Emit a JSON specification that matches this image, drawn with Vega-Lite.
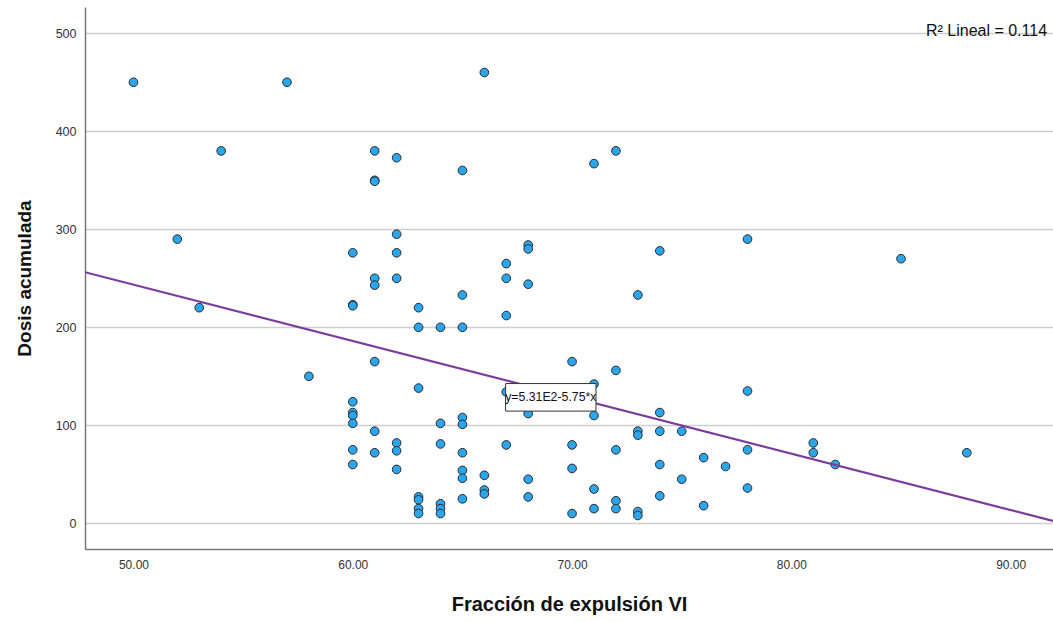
{
  "$schema": "https://vega.github.io/schema/vega-lite/v6.json",
  "width": 968,
  "height": 542,
  "autosize": {"type": "none"},
  "padding": {"left": 85, "top": 7, "right": 0, "bottom": 73},
  "background": "white",
  "config": {
    "view": {"stroke": null},
    "font": "Liberation Sans",
    "axis": {"labelFont": "Liberation Sans", "titleFont": "Liberation Sans"}
  },
  "datasets": {
    "pts": [
      {"x": 50, "y": 450}, {"x": 57, "y": 450}, {"x": 54, "y": 380}, {"x": 52, "y": 290}, {"x": 53, "y": 220}, {"x": 58, "y": 150},
      {"x": 60, "y": 276}, {"x": 60, "y": 223}, {"x": 60, "y": 222}, {"x": 60, "y": 124}, {"x": 60, "y": 113}, {"x": 60, "y": 110}, {"x": 60, "y": 102}, {"x": 60, "y": 75}, {"x": 60, "y": 60},
      {"x": 61, "y": 380}, {"x": 61, "y": 350}, {"x": 61, "y": 349}, {"x": 61, "y": 250}, {"x": 61, "y": 243}, {"x": 61, "y": 165}, {"x": 61, "y": 94}, {"x": 61, "y": 72},
      {"x": 62, "y": 373}, {"x": 62, "y": 295}, {"x": 62, "y": 276}, {"x": 62, "y": 250}, {"x": 62, "y": 82}, {"x": 62, "y": 74}, {"x": 62, "y": 55},
      {"x": 63, "y": 220}, {"x": 63, "y": 200}, {"x": 63, "y": 138}, {"x": 63, "y": 27}, {"x": 63, "y": 24}, {"x": 63, "y": 15}, {"x": 63, "y": 10},
      {"x": 64, "y": 200}, {"x": 64, "y": 102}, {"x": 64, "y": 81}, {"x": 64, "y": 20}, {"x": 64, "y": 15}, {"x": 64, "y": 10},
      {"x": 65, "y": 360}, {"x": 65, "y": 233}, {"x": 65, "y": 200}, {"x": 65, "y": 108}, {"x": 65, "y": 101}, {"x": 65, "y": 72}, {"x": 65, "y": 54}, {"x": 65, "y": 46}, {"x": 65, "y": 25},
      {"x": 66, "y": 460}, {"x": 66, "y": 49}, {"x": 66, "y": 34}, {"x": 66, "y": 30},
      {"x": 67, "y": 265}, {"x": 67, "y": 250}, {"x": 67, "y": 212}, {"x": 67, "y": 134}, {"x": 67, "y": 80},
      {"x": 68, "y": 284}, {"x": 68, "y": 280}, {"x": 68, "y": 244}, {"x": 68, "y": 112}, {"x": 68, "y": 45}, {"x": 68, "y": 27},
      {"x": 70, "y": 165}, {"x": 70, "y": 80}, {"x": 70, "y": 56}, {"x": 70, "y": 10},
      {"x": 71, "y": 367}, {"x": 71, "y": 142}, {"x": 71, "y": 110}, {"x": 71, "y": 35}, {"x": 71, "y": 15},
      {"x": 72, "y": 380}, {"x": 72, "y": 156}, {"x": 72, "y": 75}, {"x": 72, "y": 23}, {"x": 72, "y": 15},
      {"x": 73, "y": 233}, {"x": 73, "y": 94}, {"x": 73, "y": 90}, {"x": 73, "y": 12}, {"x": 73, "y": 8},
      {"x": 74, "y": 278}, {"x": 74, "y": 113}, {"x": 74, "y": 94}, {"x": 74, "y": 60}, {"x": 74, "y": 28},
      {"x": 75, "y": 94}, {"x": 75, "y": 45}, {"x": 76, "y": 67}, {"x": 76, "y": 18}, {"x": 77, "y": 58},
      {"x": 78, "y": 290}, {"x": 78, "y": 135}, {"x": 78, "y": 75}, {"x": 78, "y": 36},
      {"x": 81, "y": 82}, {"x": 81, "y": 72}, {"x": 82, "y": 60}, {"x": 85, "y": 270}, {"x": 88, "y": 72}
    ],
    "fit": [{"x": 47.79, "y": 256.2}, {"x": 91.93, "y": 2.4}],
    "eqbox": [{"x": 66.97, "x2": 71.09, "y": 114.5, "y2": 142.6, "label": "y=5.31E2-5.75*x", "cx": 69.03, "cy": 128.5}],
    "r2": [{"x": 91.66, "y": 497.2, "label": "R² Lineal = 0.114"}]
  },
  "layer": [
    {
      "data": {"name": "pts"},
      "mark": {"type": "point", "shape": "circle", "filled": true, "size": 75, "fill": "#2aa6ee", "stroke": "#2b2b2b", "strokeWidth": 1, "opacity": 1},
      "encoding": {
        "x": {
          "field": "x", "type": "quantitative",
          "scale": {"domain": [47.79, 91.93], "nice": false, "zero": false},
          "axis": {
            "title": "Fracción de expulsión VI", "titleFontSize": 20, "titleFontWeight": "bold", "titleColor": "#111", "titlePadding": 24,
            "values": [50, 60, 70, 80, 90], "format": ".2f", "labelFontSize": 12, "labelColor": "#333", "labelPadding": 10,
            "ticks": false, "grid": false, "domainColor": "#777", "domainWidth": 1.5
          }
        },
        "y": {
          "field": "y", "type": "quantitative",
          "scale": {"domain": [-26.2, 526.8], "nice": false, "zero": false},
          "axis": {
            "title": "Dosis acumulada", "titleFontSize": 19, "titleFontWeight": "bold", "titleColor": "#111", "titlePadding": 21,
            "values": [0, 100, 200, 300, 400, 500], "format": "d", "labelFontSize": 12.5, "labelColor": "#333", "labelPadding": 9,
            "ticks": false, "grid": true, "gridColor": "#cfcfcf", "gridWidth": 1.5, "domainColor": "#777", "domainWidth": 1.5
          }
        }
      }
    },
    {
      "data": {"name": "fit"},
      "mark": {"type": "line", "color": "#7b3d9b", "strokeWidth": 2.2, "clip": true},
      "encoding": {
        "x": {"field": "x", "type": "quantitative"},
        "y": {"field": "y", "type": "quantitative"}
      }
    },
    {
      "data": {"name": "eqbox"},
      "mark": {"type": "rect", "fill": "white", "stroke": "#333", "strokeWidth": 1},
      "encoding": {
        "x": {"field": "x", "type": "quantitative"},
        "x2": {"field": "x2"},
        "y": {"field": "y", "type": "quantitative"},
        "y2": {"field": "y2"}
      }
    },
    {
      "data": {"name": "eqbox"},
      "mark": {"type": "text", "fontSize": 12.3, "color": "#111", "align": "center", "baseline": "middle", "font": "Liberation Sans"},
      "encoding": {
        "x": {"field": "cx", "type": "quantitative"},
        "y": {"field": "cy", "type": "quantitative"},
        "text": {"field": "label"}
      }
    },
    {
      "data": {"name": "r2"},
      "mark": {"type": "text", "fontSize": 16, "color": "#111", "align": "right", "baseline": "alphabetic", "font": "Liberation Sans"},
      "encoding": {
        "x": {"field": "x", "type": "quantitative"},
        "y": {"field": "y", "type": "quantitative"},
        "text": {"field": "label"}
      }
    }
  ]
}
